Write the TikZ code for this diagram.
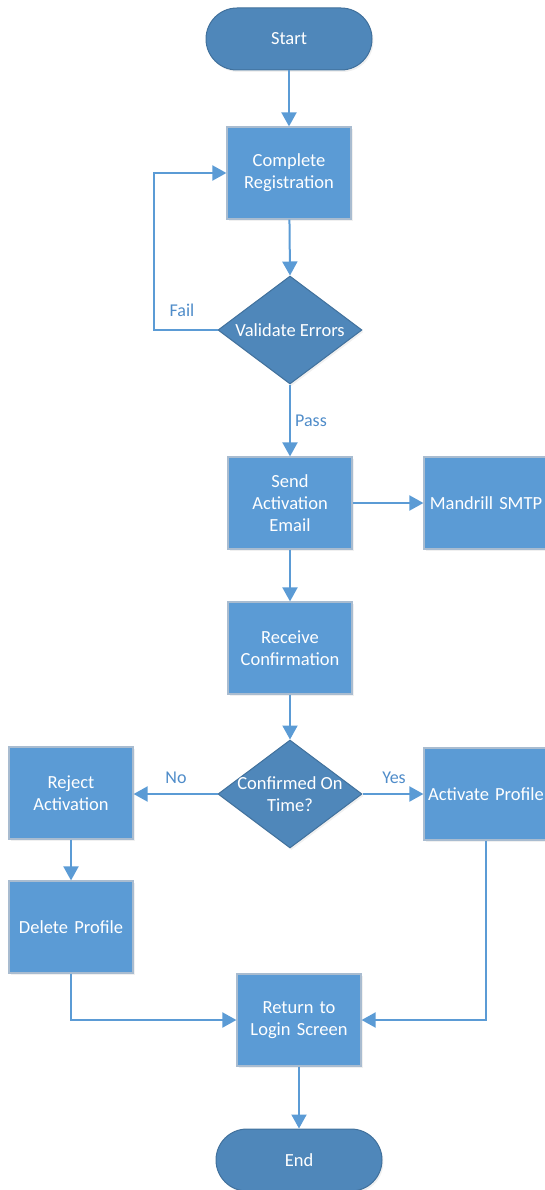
\documentclass[tikz,border=0pt]{standalone}
\usepackage{fontspec}
\setmainfont{Carlito}
\usetikzlibrary{arrows.meta,shapes.geometric,shadows}
\definecolor{boxfill}{HTML}{5B9BD5}
\definecolor{boxline}{HTML}{A9BCD0}
\definecolor{darkfill}{HTML}{4F87BA}
\definecolor{darkline}{HTML}{41719C}
\definecolor{arrowc}{HTML}{5B9BD5}
\definecolor{lblc}{HTML}{4F8CC9}
\begin{document}
\begin{tikzpicture}[x=1pt,y=-1pt,
  txt/.style={text=white,font=\fontsize{18.5}{22}\selectfont,align=center},
  shad/.style={drop shadow={opacity=0.12,shadow xshift=1.5pt,shadow yshift=-2pt}},
  procbox/.style={txt,shad,rectangle,draw=boxline,line width=1.2pt,fill=boxfill,
    minimum width=124pt,minimum height=92pt,inner sep=1pt,text width=122pt},
  termbox/.style={txt,shad,rectangle,rounded corners=31pt,draw=darkline,line width=1pt,fill=darkfill,
    minimum width=166pt,minimum height=62pt},
  decbox/.style={shad,diamond,draw=darkline,line width=1pt,fill=darkfill,
    minimum width=144pt,minimum height=108pt,inner sep=0pt},
  conn/.style={draw=arrowc,line width=2pt,-{Triangle[length=14pt,width=15pt]}},
  lbl/.style={text=lblc,font=\fontsize{18}{21}\selectfont}
]
\path[use as bounding box,clip] (0,0) rectangle (545,1190);

\node[termbox] (start) at (289,39) {Start};
\node[procbox] (reg) at (289,173) {Complete\\Registration};
\node[decbox,label={[txt]center:Validate Errors}] (val) at (290,330) {};
\node[procbox] (send) at (290,503) {Send\\Activation\\Email};
\node[procbox] (smtp) at (486,503) {Mandrill SMTP};
\node[procbox] (recv) at (290,648) {Receive\\Confirmation};
\node[decbox,label={[txt]center:Confirmed On\\Time?}] (conf) at (290,794) {};
\node[procbox] (rej) at (71,793) {Reject\\Activation};
\node[procbox] (act) at (486,794) {Activate Profile};
\node[procbox] (del) at (71,927) {Delete Profile};
\node[procbox] (ret) at (299,1020) {Return to\\Login Screen};
\node[termbox] (end) at (299,1160) {End};

\coordinate (failc) at (154,330);

\draw[conn] (start) -- (reg);
\draw[conn] (reg) -- (val.north);
\draw[conn] (val.west) -- (failc) |- (reg.west);
\node[lbl] (fail) at (182,310) {Fail};
\draw[conn] (val.south) -- (send);
\node[lbl] (pass) at (311,421) {Pass};
\draw[conn] (send) -- (smtp);
\draw[conn] (send) -- (recv);
\draw[conn] (recv) -- (conf.north);
\draw[conn] (conf.west) -- (rej.east |- conf.west);
\node[lbl] (no) at (176,778) {No};
\draw[conn] (conf.east) -- (act.west |- conf.east);
\node[lbl] (yes) at (394,778) {Yes};
\draw[conn] (rej) -- (del);
\draw[conn] (del.south) |- (ret.west);
\draw[conn] (act.south) |- (ret.east);
\draw[conn] (ret) -- (end);
\end{tikzpicture}
\end{document}
